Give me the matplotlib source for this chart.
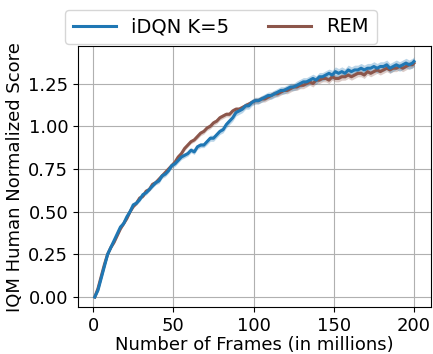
import matplotlib
matplotlib.use("Agg")
import matplotlib.pyplot as plt
import numpy as np

frames = [1, 3, 5, 7, 9, 11, 13, 15, 17, 19, 21, 23, 25, 27, 29, 31, 33, 35, 37, 39,
          41, 43, 45, 47, 49, 51, 53, 55, 57, 59, 61, 63, 65, 67, 69, 71, 73, 75, 77, 79,
          81, 83, 85, 87, 89, 91, 93, 95, 97, 99, 101, 103, 105, 107, 109, 111, 113, 115,
          117, 119, 121, 123, 125, 127, 129, 131, 133, 135, 137, 139, 141, 143, 145, 147,
          149, 151, 153, 155, 157, 159, 161, 163, 165, 167, 169, 171, 173, 175, 177, 179,
          181, 183, 185, 187, 189, 191, 193, 195, 197, 199, 200]

idqn = [0.00, 0.04, 0.11, 0.18, 0.25, 0.29, 0.33, 0.37, 0.41, 0.43, 0.47, 0.50, 0.54,
        0.55, 0.57, 0.60, 0.61, 0.63, 0.65, 0.67, 0.68, 0.71, 0.72, 0.74, 0.77, 0.78,
        0.80, 0.82, 0.83, 0.84, 0.86, 0.85, 0.88, 0.89, 0.89, 0.91, 0.93, 0.93, 0.95,
        0.97, 0.98, 1.01, 1.03, 1.05, 1.08, 1.09, 1.10, 1.12, 1.12, 1.14, 1.15, 1.15,
        1.16, 1.17, 1.18, 1.18, 1.19, 1.20, 1.21, 1.21, 1.22, 1.23, 1.23, 1.24, 1.25,
        1.26, 1.26, 1.27, 1.28, 1.27, 1.29, 1.29, 1.30, 1.31, 1.30, 1.32, 1.31, 1.32,
        1.31, 1.33, 1.32, 1.33, 1.33, 1.34, 1.33, 1.34, 1.34, 1.35, 1.34, 1.35, 1.35,
        1.36, 1.34, 1.35, 1.36, 1.35, 1.36, 1.37, 1.36, 1.37, 1.38]
idqn_err = [0.005, 0.008, 0.01, 0.01, 0.01, 0.01, 0.01, 0.01, 0.01, 0.01, 0.01, 0.01,
            0.01, 0.012, 0.012, 0.012, 0.012, 0.012, 0.012, 0.012, 0.015, 0.015, 0.015,
            0.015, 0.015, 0.015, 0.015, 0.015, 0.015, 0.015, 0.015, 0.015, 0.015, 0.015,
            0.015, 0.018, 0.018, 0.018, 0.018, 0.018, 0.018, 0.02, 0.02, 0.02, 0.02,
            0.02, 0.02, 0.02, 0.02, 0.02, 0.02, 0.02, 0.02, 0.02, 0.02, 0.022, 0.022,
            0.022, 0.022, 0.022, 0.022, 0.022, 0.022, 0.025, 0.025, 0.025, 0.025, 0.025,
            0.025, 0.025, 0.025, 0.025, 0.025, 0.025, 0.028, 0.028, 0.028, 0.028, 0.028,
            0.028, 0.028, 0.028, 0.028, 0.028, 0.028, 0.028, 0.028, 0.028, 0.028, 0.028,
            0.028, 0.028, 0.028, 0.028, 0.028, 0.028, 0.028, 0.028, 0.028, 0.028, 0.028]

rem = [0.00, 0.05, 0.12, 0.19, 0.25, 0.29, 0.32, 0.36, 0.40, 0.43, 0.46, 0.50, 0.53,
       0.55, 0.58, 0.59, 0.62, 0.63, 0.66, 0.67, 0.69, 0.71, 0.73, 0.75, 0.77, 0.79,
       0.82, 0.84, 0.87, 0.89, 0.91, 0.92, 0.94, 0.96, 0.97, 0.99, 1.00, 1.02, 1.03,
       1.05, 1.06, 1.07, 1.07, 1.09, 1.10, 1.10, 1.11, 1.12, 1.13, 1.14, 1.15, 1.15,
       1.16, 1.16, 1.17, 1.18, 1.19, 1.19, 1.20, 1.21, 1.21, 1.22, 1.23, 1.23, 1.24,
       1.24, 1.25, 1.26, 1.25, 1.27, 1.27, 1.28, 1.28, 1.27, 1.29, 1.28, 1.28, 1.29,
       1.29, 1.30, 1.29, 1.30, 1.31, 1.31, 1.30, 1.32, 1.31, 1.32, 1.33, 1.32, 1.33,
       1.34, 1.33, 1.34, 1.34, 1.35, 1.34, 1.35, 1.36, 1.36, 1.37]
rem_err = [0.005, 0.008, 0.008, 0.008, 0.008, 0.008, 0.008, 0.008, 0.01, 0.01, 0.01,
           0.01, 0.01, 0.01, 0.01, 0.01, 0.01, 0.01, 0.012, 0.012, 0.012, 0.012, 0.012,
           0.012, 0.012, 0.012, 0.012, 0.012, 0.012, 0.012, 0.012, 0.012, 0.015, 0.015,
           0.015, 0.015, 0.015, 0.015, 0.015, 0.015, 0.015, 0.015, 0.015, 0.015, 0.015,
           0.015, 0.015, 0.015, 0.015, 0.015, 0.018, 0.018, 0.018, 0.018, 0.018, 0.018,
           0.018, 0.018, 0.018, 0.018, 0.02, 0.02, 0.02, 0.02, 0.02, 0.02, 0.02, 0.02,
           0.02, 0.02, 0.02, 0.02, 0.02, 0.02, 0.02, 0.02, 0.02, 0.02, 0.02, 0.02,
           0.02, 0.02, 0.02, 0.02, 0.02, 0.02, 0.02, 0.02, 0.02, 0.02, 0.02, 0.02, 0.02,
           0.02, 0.02, 0.02, 0.02, 0.02, 0.02, 0.02, 0.02]

x_ticks = [0, 50, 100, 150, 200]
y_ticks = [0.00, 0.25, 0.50, 0.75, 1.00, 1.25]

fig = plt.figure(figsize=(4.33, 3.54), dpi=100)
ax = fig.add_axes([0.180, 0.132, 0.815, 0.738])

x = np.array(frames)
for vals, err, color in [(rem, rem_err, "#8c564b"), (idqn, idqn_err, "#1f77b4")]:
    v = np.array(vals)
    e = np.array(err)
    ax.fill_between(x, v - e, v + e, color=color, alpha=0.3, linewidth=0)

l2, = ax.plot(x, np.array(rem), color="#8c564b", linewidth=2.2, label="REM")
l1, = ax.plot(x, np.array(idqn), color="#1f77b4", linewidth=2.2, label="iDQN K=5")

ax.set_xticks(x_ticks)
ax.set_yticks(y_ticks)
ax.set_yticklabels([f"{t:.2f}" for t in y_ticks])
ax.tick_params(labelsize=13)
ax.grid(True, color="#b0b0b0", linewidth=0.8)
ax.set_axisbelow(True)
ax.set_xlabel("Number of Frames (in millions)", fontsize=13, labelpad=1)
ax.set_ylabel("IQM Human Normalized Score", fontsize=13, labelpad=3)
ax.set_xlim(-9.5, 210.5)
ax.set_ylim(-0.06, 1.47)

fig.legend([l1, l2], ["iDQN K=5", "REM"], ncol=2, fontsize=14,
           loc="upper center", bbox_to_anchor=(0.51, 1.0), handlelength=2.2,
           columnspacing=2.0)

fig.savefig("out.png", dpi=100)
